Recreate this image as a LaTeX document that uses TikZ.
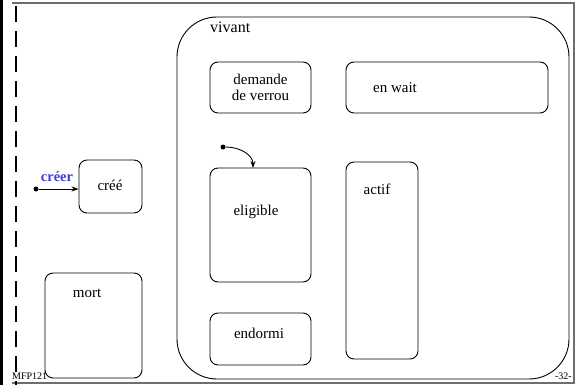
\documentclass[tikz,border=0pt]{standalone}
\usepackage{fontspec}
\setmainfont{Liberation Serif}
\usetikzlibrary{arrows.meta}
\definecolor{creerblue}{RGB}{60,60,220}
\definecolor{framegray}{RGB}{110,110,110}
\begin{document}
\begin{tikzpicture}[x=1pt,y=-1pt,
  state/.style={draw, rounded corners=8pt, line width=0.9pt},
  lbl/.style={font=\fontsize{15}{16.5}\selectfont, align=center, inner sep=0pt},
  small/.style={font=\fontsize{10}{11}\selectfont, inner sep=0pt},
  initdot/.style={circle, fill=black, inner sep=0pt, minimum size=5pt},
  trans/.style={line width=0.9pt, -{Stealth[length=7pt,width=5pt]}}]
\useasboundingbox (0,0) rectangle (577,385);
% frame
\draw[framegray, line width=1.2pt] (12,3) -- (574,3) -- (574,383) -- (12,383);
\draw[line width=2.5pt] (1.5,0) -- (1.5,385);
\draw[line width=2.6pt, dash pattern=on 16pt off 9pt] (16,6) -- (16,385);
% vivant
\draw[line width=0.9pt, rounded corners=40pt] (177,17) rectangle (569,379);
\node[anchor=base west, font=\fontsize{16}{18}\selectfont, inner sep=0pt] (vivant) at (210,33) {vivant};
% states
\node[state, minimum width=101pt, minimum height=51pt] (demande) at (260.5,87.5) {};
\node[lbl] at (demande) {demande\\de verrou};
\node[state, minimum width=202pt, minimum height=51pt] (wait) at (447,87.5) {};
\node[lbl] at (395,88) {en wait};
\node[state, minimum width=101pt, minimum height=114pt] (eligible) at (260.5,225) {};
\node[lbl] at (256,212) {eligible};
\node[state, minimum width=72pt, minimum height=197pt] (actif) at (382,260.5) {};
\node[lbl] at (377,189) {actif};
\node[state, minimum width=101pt, minimum height=52pt] (endormi) at (260.5,339) {};
\node[lbl] at (259,333) {endormi};
\node[state, minimum width=63pt, minimum height=53pt] (cree) at (110.5,186.5) {};
\node[lbl] at (110,185) {créé};
\node[state, minimum width=97pt, minimum height=105pt] (mort) at (93.5,325.5) {};
\node[lbl] at (87,293) {mort};
% initial transitions
\node[initdot] (i1) at (36,189) {};
\draw[trans] (i1) -- (cree.west |- i1);
\node[font=\fontsize{14.5}{16}\selectfont\bfseries, text=creerblue, inner sep=0pt] (creer) at (57,177) {créer};
\node[initdot] (i2) at (223,147) {};
\coordinate (e2) at (253,168);
\draw[trans] (i2) to[out=0, in=90] (e2);
% footer
\node[small, anchor=base west] (mfp) at (12,379) {MFP121};
\node[small, anchor=base east] (pg) at (572,379) {-32-};
\end{tikzpicture}
\end{document}
